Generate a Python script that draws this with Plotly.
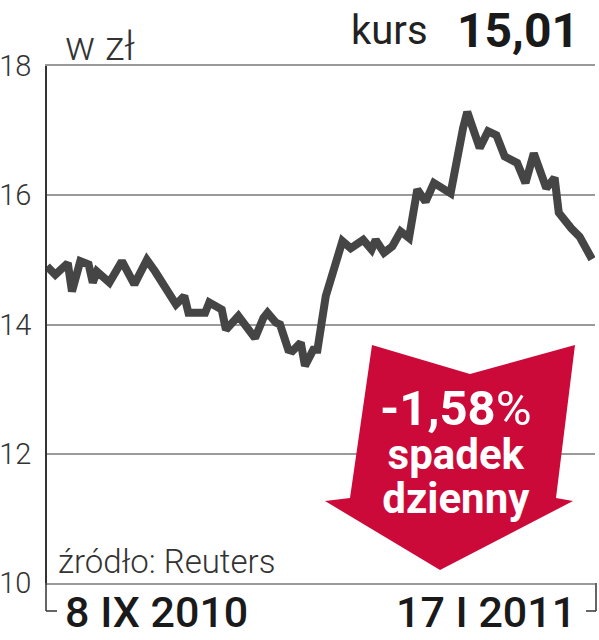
import plotly.graph_objects as go

# ---- data ----
dates = [
    "2010-09-08", "2010-09-10", "2010-09-13", "2010-09-14", "2010-09-16", "2010-09-18",
    "2010-09-19", "2010-09-20", "2010-09-23", "2010-09-26", "2010-09-29", "2010-10-02",
    "2010-10-04", "2010-10-07", "2010-10-09", "2010-10-11", "2010-10-12", "2010-10-16",
    "2010-10-17", "2010-10-20", "2010-10-21", "2010-10-24", "2010-10-26", "2010-10-28",
    "2010-10-30", "2010-10-31", "2010-11-02", "2010-11-03", "2010-11-05", "2010-11-06",
    "2010-11-08", "2010-11-09", "2010-11-11", "2010-11-12", "2010-11-14", "2010-11-18",
    "2010-11-20", "2010-11-23", "2010-11-25", "2010-11-26", "2010-11-28", "2010-11-30",
    "2010-12-02", "2010-12-04", "2010-12-06", "2010-12-08", "2010-12-10", "2010-12-14",
    "2010-12-17", "2010-12-18", "2010-12-21", "2010-12-23", "2010-12-25", "2010-12-27",
    "2010-12-30", "2011-01-01", "2011-01-03", "2011-01-06", "2011-01-08", "2011-01-09",
    "2011-01-12", "2011-01-14", "2011-01-17",
]
kurs = [
    14.90, 14.77, 14.95, 14.51, 14.98, 14.93,
    14.65, 14.82, 14.65, 14.98, 14.62, 15.00,
    14.82, 14.54, 14.31, 14.44, 14.18, 14.18,
    14.34, 14.23, 13.92, 14.13, 13.97, 13.79,
    14.10, 14.18, 14.03, 14.00, 13.61, 13.59,
    13.72, 13.36, 13.61, 13.61, 14.44, 15.29,
    15.18, 15.31, 15.16, 15.31, 15.11, 15.21,
    15.44, 15.34, 16.09, 15.90, 16.19, 16.03,
    17.04, 17.29, 16.73, 16.99, 16.93, 16.60,
    16.50, 16.19, 16.65, 16.11, 16.27, 15.73,
    15.49, 15.36, 15.01,
]
y_ticks = [10, 12, 14, 16, 18]
x_labels = ["8 IX 2010", "17 I 2011"]
last_price = "15,01"
daily_change = "-1,58"

# ---- geometry helpers (plot area in pixels) ----
W, H = 599, 640
PL, PT, PW, PH = 47, 66, 548, 517


def px(x):
    return (x - PL) / PW


def py(y):
    return (PT + PH - y) / PH


DARK = "#454545"
GRID = "#9a9a9a"
RED = "#cc0a3a"
FONT = "Roboto"

fig = go.Figure()
fig.add_trace(go.Scatter(
    x=dates, y=kurs, mode="lines",
    line=dict(color=DARK, width=8),
    hoverinfo="skip", showlegend=False,
))

# arrow
arrow_pts = [(372, 345), (470, 374), (575, 345), (556, 498), (573, 501),
             (440, 570), (325, 501), (350, 498)]
path = "M " + " L ".join(f"{px(a):.4f},{py(b):.4f}" for a, b in arrow_pts) + " Z"

shapes = [
    dict(type="path", xref="paper", yref="paper", path=path,
         fillcolor=RED, line=dict(width=0), layer="above"),
    # bottom brackets
    dict(type="line", xref="paper", yref="paper", x0=px(46), x1=px(46), y0=py(583), y1=py(611),
         line=dict(color="#333333", width=1.5)),
    dict(type="line", xref="paper", yref="paper", x0=px(46), x1=px(57), y0=py(611), y1=py(611),
         line=dict(color="#333333", width=1.5)),
    dict(type="line", xref="paper", yref="paper", x0=px(596), x1=px(596), y0=py(583), y1=py(611),
         line=dict(color="#333333", width=1.5)),
    dict(type="line", xref="paper", yref="paper", x0=px(586), x1=px(596), y0=py(611), y1=py(611),
         line=dict(color="#333333", width=1.5)),
]


def ann(text, x, y, size, xanchor="left", color="#222222", weight=400, family=FONT):
    return dict(text=text, xref="paper", yref="paper", x=px(x), y=py(y),
                xanchor=xanchor, yanchor="middle", showarrow=False,
                font=dict(family=family, size=size, color=color, weight=weight))


arrow_text = (
    f'<span style="font-size:49px">{daily_change}</span>'
    '<span style="font-size:49px;font-weight:400">%</span><br>'
    '<span style="font-size:42px">spadek</span><br>'
    '<span style="font-size:42px">dzienny</span>'
)

annotations = [
    ann("w zł", 63, 47, 40, weight=300, color="#333333"),
    ann("kurs", 430, 31, 40, xanchor="right", color="#222222"),
    ann(last_price, 455, 31, 48, weight=700, color="#1a1a1a"),
    ann("źródło: Reuters", 56, 561, 33, weight=300, color="#333333"),
    ann(x_labels[0], 63, 612, 43, weight=500, color="#1a1a1a"),
    ann(x_labels[1], 578, 612, 43, xanchor="right", weight=500, color="#1a1a1a"),
    dict(ann(arrow_text, 456, 451, 34, xanchor="center", color="white", weight=700),
         align="center"),
]

fig.update_layout(
    width=W, height=H,
    margin=dict(l=PL, r=W - PL - PW, t=PT, b=H - PT - PH, pad=0, autoexpand=False),
    paper_bgcolor="white", plot_bgcolor="white",
    shapes=shapes, annotations=annotations,
    xaxis=dict(
        type="date", range=["2010-09-08", "2011-01-17 17:00"],
        showgrid=False, showticklabels=False, ticks="", automargin=False,
        showline=True, mirror=True, linecolor=GRID, linewidth=1.5,
        zeroline=False, fixedrange=True,
    ),
    yaxis=dict(
        range=[10, 18], tickvals=y_ticks, ticktext=[str(v) for v in y_ticks],
        showgrid=True, gridcolor=GRID, gridwidth=1.5, automargin=False,
        showline=True, linecolor="#333333", linewidth=1.5, mirror=False,
        ticks="", ticklabelstandoff=8, zeroline=False, fixedrange=True,
        tickfont=dict(family=FONT, size=29, color="#333333", weight=300),
    ),
)

fig.write_html(
    "out.html",
    config={"displayModeBar": False},
    post_script="document.body.style.margin='0';document.body.style.overflow='hidden';",
)
